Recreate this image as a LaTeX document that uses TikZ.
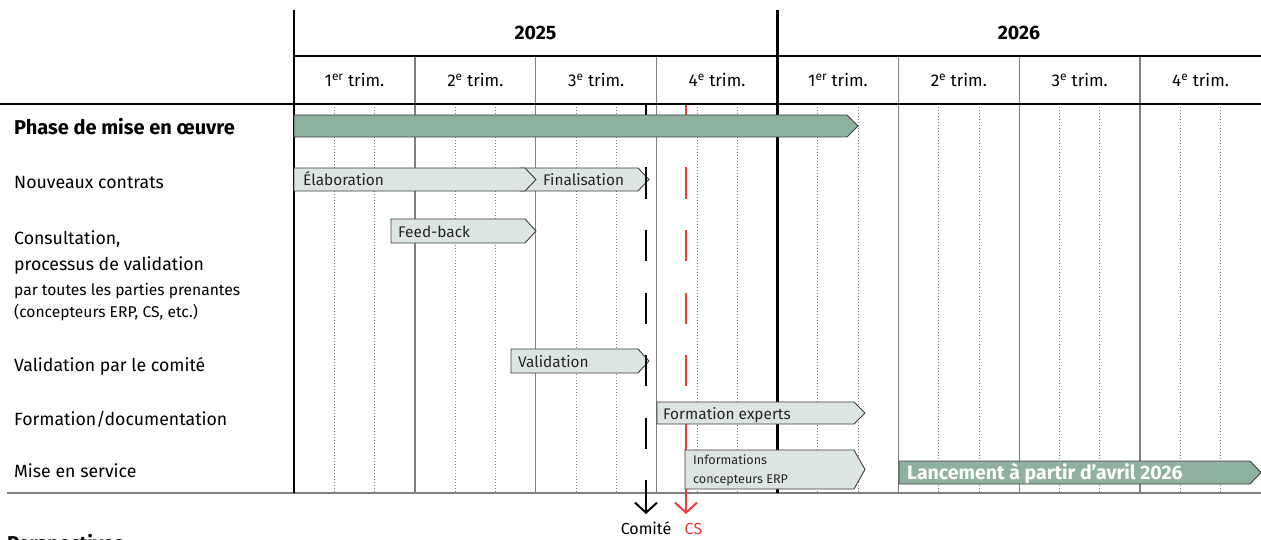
\documentclass[tikz,border=0pt]{standalone}
\usepackage{fontspec}
\setmainfont{Fira Sans}
\usepackage{xcolor}
\usetikzlibrary{arrows.meta}
\definecolor{gridgray}{RGB}{128,128,128}
\definecolor{taskfill}{RGB}{220,229,224}
\definecolor{phasefill}{RGB}{143,176,159}
\definecolor{taskedge}{RGB}{60,60,60}
\definecolor{csred}{RGB}{240,60,60}
\tikzset{
    yearline/.style={draw=black, line width=2.2pt},
    quarterline/.style={draw=gridgray, line width=1.3pt},
    monthline/.style={draw=gridgray, line width=0.7pt, dash pattern=on 1.2pt off 1.8pt},
    headline/.style={draw=black, line width=1.3pt},
    task/.style={fill=taskfill, draw=taskedge, line width=0.9pt},
    phase/.style={fill=phasefill, draw=taskedge, line width=0.9pt},
    tasktext/.style={font=\fontsize{15.4}{17}\selectfont, text=black!85, inner sep=0pt, anchor=base west},
    smalltext/.style={font=\fontsize{12.6}{15}\selectfont, text=black!85, inner sep=0pt, anchor=base west},
    phasetext/.style={font=\bfseries\fontsize{19.5}{21}\selectfont, text=white, inner sep=0pt, anchor=base west},
    rowlabel/.style={font=\fontsize{17.7}{20}\selectfont, inner sep=0pt, anchor=base west},
    rowsmall/.style={font=\fontsize{15.6}{17}\selectfont, inner sep=0pt, anchor=base west},
    yearlabel/.style={font=\bfseries\fontsize{19.5}{21}\selectfont, inner sep=0pt, anchor=base},
    quarterlabel/.style={font=\fontsize{17}{20}\selectfont, inner sep=0pt, anchor=base},
    milestone/.style={font=\fontsize{16}{18}\selectfont, inner sep=0pt, anchor=base},
    comiteline/.style={draw=black, line width=2.2pt, dash pattern=on 31.25pt off 31.25pt},
    csline/.style={draw=csred, line width=2pt}
}
% task bar: style, left, right, top, bottom
\newcommand{\taskbar}[5]{%
  \draw[#1] (#2,#4) -- ({#3-11},#4) -- (#3,{(#4+#5)/2}) -- ({#3-11},#5) -- (#2,#5) -- cycle;}

\begin{document}
\begin{tikzpicture}[x=1pt, y=-1pt]
\useasboundingbox (0,0) rectangle (1261,540);

% Grid
\foreach \i in {0,...,7}{
  \foreach \k in {1,2}
    \draw[monthline] ({294+120.875*(\i+\k/3)},104) -- ({294+120.875*(\i+\k/3)},493);
}
\foreach \i in {1,2,3,5,6,7}
  \draw[quarterline] ({294+120.875*\i},56) -- ({294+120.875*\i},493);
\draw[headline] (294,56) -- (1261,56);
\draw[draw=black, line width=2pt] (0,104) -- (1261,104);
\draw[quarterline] (7,493) -- (1261,493);
\draw[yearline] (294,10) -- (294,493);
\draw[yearline] (777.5,10) -- (777.5,493);

% Header
\node[yearlabel] (y2025) at (535.5,40) {2025};
\node[yearlabel] (y2026) at (1019,40) {2026};
\foreach \lab [count=\i from 0] in {1\textsuperscript{er},2\textsuperscript{e},3\textsuperscript{e},4\textsuperscript{e},1\textsuperscript{er},2\textsuperscript{e},3\textsuperscript{e},4\textsuperscript{e}}
  \node[quarterlabel] (q\i) at ({294+120.875*(\i+0.5)},87) {\lab{} trim.};

% Row labels
\node[rowlabel, font=\bfseries\fontsize{20}{22}\selectfont] (r_phase) at (14,135) {Phase de mise en œuvre};
\node[rowlabel] (r_contrats) at (14,189) {Nouveaux contrats};
\node[rowlabel] (r_consult) at (14,244) {Consultation,};
\node[rowlabel] (r_process) at (14,270) {processus de validation};
\node[rowsmall] (r_parties) at (14,295) {par toutes les parties prenantes};
\node[rowsmall] (r_erp) at (14,317) {(concepteurs ERP, CS, etc.)};
\node[rowlabel] (r_valid) at (14,371) {Validation par le comité};
\node[rowlabel] (r_form) at (14,425) {Formation/documentation};
\node[rowlabel] (r_service) at (14,477) {Mise en service};

% CS line
\coordinate (cs_top) at (686,105);
\coordinate (cs_mid) at (686,425);
\coordinate (cs_bot) at (686,514);
\draw[csline, dash pattern=on 31.25pt off 31.25pt] (cs_top) -- (cs_mid);
\draw[csline, -{Straight Barb[length=10pt, width=22pt, line width=2pt]}] (cs_mid) -- (cs_bot);

% Task bars
\taskbar{task}{520}{649}{168}{191}
\taskbar{task}{294}{536}{168}{191}
\taskbar{task}{391}{536}{219}{243}
\taskbar{task}{511}{649}{349}{373}
\taskbar{task}{657}{865}{402}{424}
\taskbar{task}{685}{865}{450}{489}
\node[tasktext] (t_elab) at (303,186) {Élaboration};
\node[tasktext] (t_final) at (543,186) {Finalisation};
\node[tasktext] (t_feed) at (398,237) {Feed-back};
\node[tasktext] (t_valid) at (518,367) {Validation};
\node[tasktext] (t_form) at (663,419) {Formation experts};
\node[smalltext] (t_info) at (693,464) {Informations};
\node[smalltext] (t_erp) at (693,483) {concepteurs ERP};

% Comité line
\coordinate (com_top) at (646,105);
\coordinate (com_bot) at (646,514);
\draw[comiteline, -{Straight Barb[length=10pt, width=22pt, line width=2pt]}] (com_top) -- (com_bot);

% Phase bars
\taskbar{phase}{294}{858}{115}{137}
\taskbar{phase}{899}{1261}{461}{484}
\node[phasetext] (t_lance) at (907,479) {Lancement à partir d’avril 2026};

% Milestone labels
\node[milestone] (comite) at (646,534) {Comité};
\node[milestone, text=csred] (cs) at (693.5,534) {CS};

% Next section title (cut off)
\node[rowlabel, font=\bfseries\fontsize{20}{22}\selectfont] (persp) at (7,550) {Perspectives};

\end{tikzpicture}
\end{document}
